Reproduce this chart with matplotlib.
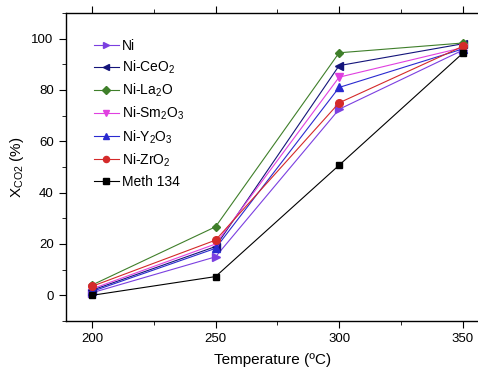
import numpy as np
import matplotlib
matplotlib.use('Agg')
import matplotlib.pyplot as plt
from matplotlib.ticker import MultipleLocator

plt.rcParams['font.family'] = ['Liberation Sans', 'DejaVu Sans']
plt.rcParams['mathtext.fontset'] = 'custom'
plt.rcParams['mathtext.rm'] = 'Liberation Sans'
plt.rcParams['mathtext.it'] = 'Liberation Sans'

# data
temperature = [200, 250, 300, 350]
x_ni = [1.0, 15.0, 72.5, 95.5]
x_ceo2 = [2.0, 19.0, 89.5, 98.0]
x_la2o = [4.0, 26.7, 94.5, 98.3]
x_sm2o3 = [2.5, 20.0, 85.0, 96.5]
x_y2o3 = [1.5, 18.3, 81.0, 96.0]
x_zro2 = [3.5, 21.5, 75.0, 97.0]
x_meth = [0.0, 7.3, 50.7, 94.3]

labels = ['Ni', 'Ni-CeO$_2$', 'Ni-La$_2$O', 'Ni-Sm$_2$O$_3$',
          'Ni-Y$_2$O$_3$', 'Ni-ZrO$_2$', 'Meth 134']
series = [x_ni, x_ceo2, x_la2o, x_sm2o3, x_y2o3, x_zro2, x_meth]
colors = ['#7b3fe0', '#14147a', '#3f7f2a', '#e040e0', '#2a2ad0', '#d42a2a', '#000000']
markers = ['>', '<', 'D', 'v', '^', 'o', 's']
msizes = [6, 6, 4.5, 6, 6, 5.5, 5]

fig = plt.figure(figsize=(4.78, 3.68), dpi=100)
ax = fig.add_axes([65.5 / 478, (368 - 321) / 368, (480 - 65.5) / 478, (321 - 13) / 368])

for y, lab, c, m, ms in zip(series, labels, colors, markers, msizes):
    ax.plot(temperature, y, color=c, marker=m, markersize=ms, linewidth=0.8, label=lab)

ax.set_xlim(189.3, 357)
ax.set_ylim(-10, 110)
ax.xaxis.set_major_locator(MultipleLocator(50))
ax.xaxis.set_minor_locator(MultipleLocator(25))
ax.yaxis.set_major_locator(MultipleLocator(20))
ax.yaxis.set_minor_locator(MultipleLocator(10))
ax.tick_params(which='both', direction='out', top=True, right=False, labelsize=9.5)
ax.tick_params(which='major', length=5)
ax.tick_params(which='minor', length=3)
for s in ax.spines.values():
    s.set_linewidth(1.0)
ax.spines['right'].set_visible(False)

ax.set_xlabel('Temperature (ºC)', fontsize=11, labelpad=6)
ax.set_ylabel('X$_{\\mathrm{CO2}}$ (%)', fontsize=11)

ax.legend(loc='upper left', bbox_to_anchor=(0.055, 0.935), frameon=False, fontsize=10,
          handlelength=1.8, handletextpad=0.2, labelspacing=0.42, borderaxespad=0,
          markerscale=0.8)

fig.savefig('out.png', dpi=100)
